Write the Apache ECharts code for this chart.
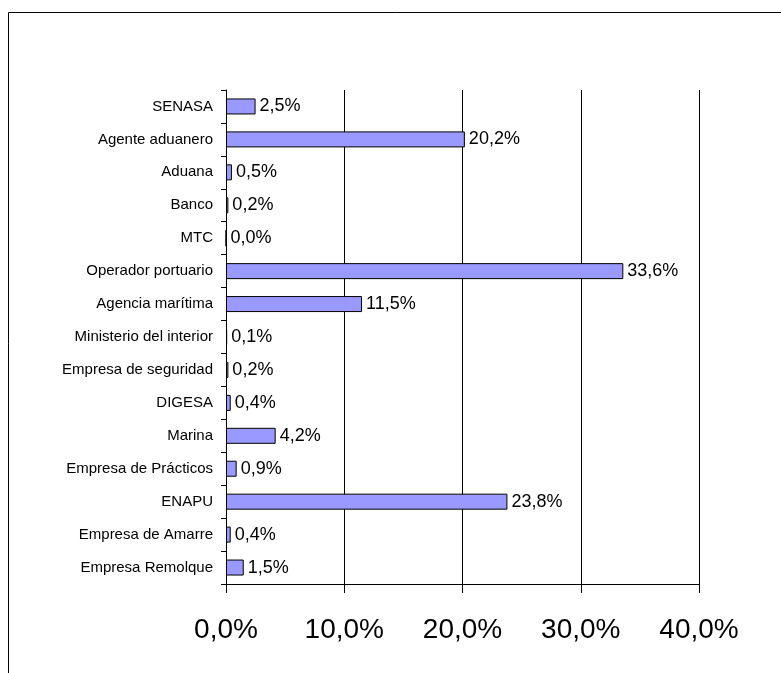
<!DOCTYPE html>
<html>
<head>
<meta charset="utf-8">
<script src="https://cdn.jsdelivr.net/npm/echarts@6/dist/echarts.min.js"></script>
<style>
  html, body { margin: 0; padding: 0; background: #fff; }
  #main { width: 781px; height: 673px; }
</style>
</head>
<body>
<div id="main"></div>
<script>
// categories, top to bottom
var categories = ['SENASA', 'Agente aduanero', 'Aduana', 'Banco', 'MTC', 'Operador portuario',
  'Agencia marítima', 'Ministerio del interior', 'Empresa de seguridad', 'DIGESA', 'Marina',
  'Empresa de Prácticos', 'ENAPU', 'Empresa de Amarre', 'Empresa Remolque']
var values = [2.5, 20.2, 0.5, 0.2, 0.0, 33.6, 11.5, 0.1, 0.2, 0.4, 4.2, 0.9, 23.8, 0.4, 1.5]
var tickValues = [0, 10, 20, 30, 40]

function pct(v) { return v.toFixed(1).replace('.', ',') + '%' }

var chart = echarts.init(document.getElementById('main'))
var option = {
  animation: false,
  textStyle: { fontFamily: 'Liberation Sans, Arial, sans-serif' },
  graphic: [{
    type: 'rect',
    shape: { x: 8.5, y: 12.5, width: 800, height: 700 },
    style: { fill: 'none', stroke: '#000', lineWidth: 1 },
    silent: true
  }],
  grid: { left: 226, top: 90, width: 473, height: 494, containLabel: false },
  xAxis: {
    type: 'value',
    min: tickValues[0],
    max: tickValues[tickValues.length - 1],
    interval: 10,
    axisLine: { show: true, lineStyle: { color: '#000', width: 1 } },
    axisTick: { show: true, inside: false, length: 9, lineStyle: { color: '#000' } },
    splitLine: { show: true, lineStyle: { color: '#000', width: 1 } },
    axisLabel: { formatter: function (v) { return pct(v) }, fontSize: 28, color: '#000', margin: 32 }
  },
  yAxis: {
    type: 'category',
    data: categories,
    inverse: true,
    axisLine: { show: true, lineStyle: { color: '#000' } },
    axisTick: { show: true, length: 5, lineStyle: { color: '#000' } },
    axisLabel: { fontSize: 15, color: '#000', margin: 13 }
  },
  series: [{
    type: 'bar',
    data: values,
    barWidth: 16,
    itemStyle: { color: '#9999FF', borderColor: '#000', borderWidth: 1 },
    label: {
      show: true,
      position: 'right',
      distance: 4,
      fontSize: 18,
      color: '#000',
      formatter: function (p) { return pct(p.value) }
    }
  }]
}
chart.setOption(option)
</script>
</body>
</html>
